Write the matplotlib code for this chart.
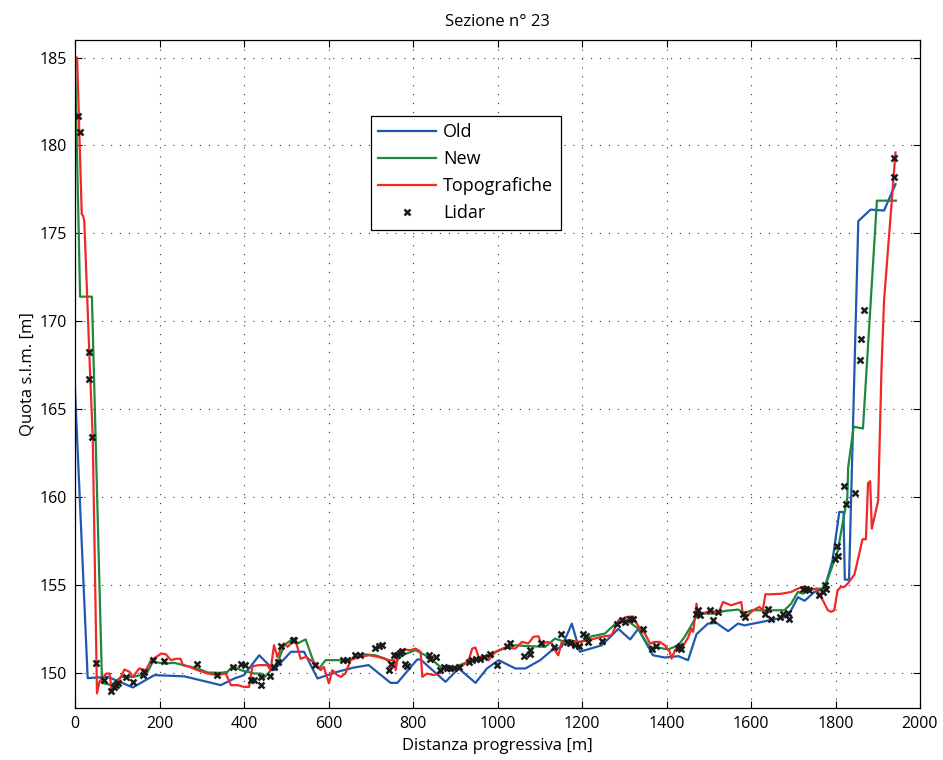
import matplotlib
matplotlib.use("Agg")
import matplotlib.pyplot as plt

plt.rcParams['font.family'] = ['Open Sans', 'DejaVu Sans']

# ---- data ----
old_x = [0, 30, 78, 137, 188, 259, 345, 377, 400, 436, 471, 511, 542, 574, 621, 660, 695, 747, 763, 810, 818,
         877, 908, 948, 975, 1003, 1042, 1066, 1101, 1129, 1152, 1176, 1195, 1247, 1286, 1314, 1333, 1368, 1396,
         1428, 1451, 1471, 1498, 1518, 1546, 1569, 1585, 1687, 1711, 1727, 1750, 1774, 1793, 1809, 1819, 1822,
         1832, 1854, 1883, 1915, 1942]
old_y = [166.1, 149.7, 149.77, 149.17, 149.87, 149.8, 149.3, 149.68, 149.87, 151.0, 150.15, 151.2, 151.2, 149.68,
         150.06, 150.3, 150.44, 149.43, 149.43, 150.76, 150.76, 149.49, 150.25, 149.43, 150.25, 150.72, 150.25,
         150.25, 150.72, 151.29, 151.48, 152.8, 151.2, 151.57, 152.5, 151.9, 152.5, 151.0, 150.87, 150.95, 150.72,
         152.2, 152.8, 152.84, 152.37, 152.8, 152.7, 153.2, 154.3, 154.1, 154.6, 154.8, 156.4, 159.15, 159.15,
         155.3, 155.3, 175.7, 176.35, 176.3, 177.8]

new_x = [0, 12, 40, 64, 86, 109, 137, 156, 172, 184, 212, 235, 267, 290, 314, 345, 361, 373, 393, 408, 424, 440,
         446, 471, 483, 495, 511, 526, 546, 566, 578, 593, 629, 645, 668, 680, 711, 735, 751, 774, 806, 837, 869,
         900, 940, 979, 1010, 1042, 1073, 1113, 1136, 1160, 1199, 1223, 1254, 1278, 1306, 1317, 1333, 1349, 1357,
         1368, 1380, 1404, 1428, 1443, 1459, 1475, 1490, 1514, 1538, 1569, 1585, 1602, 1624, 1656, 1679, 1695,
         1711, 1723, 1738, 1758, 1774, 1786, 1805, 1819, 1828, 1830, 1843, 1865, 1898, 1943]
new_y = [185, 171.4, 171.4, 149.43, 149.3, 149.77, 149.77, 149.87, 150.06, 150.63, 150.53, 150.57, 150.38, 150.25,
         150.02, 150.0, 150.06, 150.38, 150.15, 150.06, 149.96, 149.96, 149.68, 150.34, 150.8, 151.57, 151.86,
         151.67, 151.9, 150.53, 150.25, 150.72, 150.72, 150.72, 150.9, 151.06, 151.0, 150.8, 150.44, 151.0, 151.29,
         150.9, 150.25, 150.34, 150.72, 151.0, 151.33, 151.57, 151.52, 151.48, 151.95, 151.76, 151.76, 152.08,
         152.23, 152.77, 152.99, 152.8, 152.52, 151.86, 151.57, 151.44, 151.44, 151.33, 151.57, 152.05, 152.71,
         153.37, 153.37, 153.37, 153.52, 153.6, 153.41, 153.56, 153.56, 153.56, 153.56, 153.94, 154.6, 154.5,
         154.73, 154.79, 154.79, 155.64, 156.9, 158.8, 159.95, 161.7, 164.0, 163.9, 176.86, 176.86]

topo_x = [0, 5, 16, 19, 22, 36, 42, 52, 58, 74, 82, 87, 97, 117, 129, 137, 152, 168, 180, 192, 204, 215, 227, 239,
          250, 255, 271, 290, 314, 337, 357, 369, 385, 400, 412, 420, 436, 455, 463, 471, 479, 487, 495, 503, 515,
          522, 534, 546, 558, 570, 581, 589, 601, 609, 621, 629, 640, 652, 672, 696, 719, 743, 755, 759, 766, 778,
          794, 806, 818, 822, 833, 849, 861, 873, 885, 900, 916, 932, 940, 948, 955, 971, 979, 995, 1018, 1042,
          1058, 1073, 1085, 1097, 1105, 1117, 1129, 1136, 1144, 1152, 1168, 1192, 1215, 1247, 1270, 1286, 1306,
          1321, 1325, 1337, 1349, 1361, 1372, 1384, 1396, 1408, 1412, 1420, 1428, 1439, 1451, 1459, 1463, 1467,
          1471, 1475, 1490, 1506, 1522, 1534, 1553, 1565, 1577, 1581, 1593, 1605, 1613, 1620, 1628, 1634, 1648,
          1672, 1695, 1711, 1727, 1742, 1754, 1766, 1782, 1790, 1797, 1805, 1813, 1821, 1829, 1845, 1864, 1872,
          1877, 1882, 1886, 1901, 1909, 1915, 1942]
topo_y = [185, 185, 176.1, 176.0, 175.7, 166.85, 163.4, 148.83, 149.5, 149.96, 149.96, 148.92, 149.2, 150.19,
          150.06, 149.77, 150.25, 150.15, 150.72, 150.9, 151.1, 151.06, 150.72, 150.8, 150.8, 150.44, 150.34,
          150.15, 149.96, 149.87, 149.96, 149.3, 149.3, 149.2, 149.2, 150.38, 150.44, 150.44, 150.15, 151.57,
          150.9, 151.38, 151.67, 151.48, 151.76, 151.86, 150.8, 150.9, 150.72, 150.53, 150.15, 150.34, 149.4,
          150.15, 149.87, 149.77, 149.96, 150.72, 150.9, 151.0, 150.9, 150.72, 150.72, 150.15, 151.2, 151.33,
          151.29, 151.38, 151.2, 149.77, 149.96, 149.87, 149.96, 150.34, 150.15, 150.25, 150.38, 150.72, 151.38,
          151.44, 150.9, 150.9, 150.72, 151.2, 151.44, 151.38, 151.76, 151.67, 152.05, 152.08, 151.57, 151.76,
          151.67, 151.29, 151.0, 151.76, 151.86, 151.76, 151.86, 152.05, 152.14, 152.99, 153.18, 153.2, 152.99,
          152.52, 152.23, 151.67, 151.76, 151.76, 151.57, 151.19, 150.81, 151.29, 151.44, 151.52, 152.0, 152.52,
          152.33, 153.09, 153.94, 153.28, 153.41, 153.56, 153.37, 154.03, 153.84, 153.94, 154.03, 153.28, 153.28,
          153.56, 153.66, 153.75, 153.56, 154.47, 154.47, 154.5, 154.6, 154.79, 154.92, 154.73, 154.79, 154.32,
          153.56, 153.47, 153.56, 154.7, 154.89, 154.89, 155.08, 155.6, 157.6, 157.6, 160.8, 160.9, 158.2, 159.8,
          167.4, 171.2, 179.6]

lidar_x = [7, 11, 32, 34, 40, 50, 68, 86, 93, 97, 101, 121, 137, 160, 164, 184, 210, 288, 336, 373, 393, 402, 416,
           424, 440, 440, 462, 470, 481, 487, 515, 518, 567, 635, 644, 663, 674, 711, 719, 727, 743, 747, 755, 763,
           770, 774, 782, 786, 837, 841, 855, 865, 873, 881, 888, 896, 908, 932, 940, 948, 959, 967, 983, 999,
           1022, 1030, 1062, 1077, 1077, 1103, 1133, 1151, 1164, 1172, 1184, 1192, 1203, 1209, 1215, 1247, 1282,
           1294, 1302, 1314, 1321, 1345, 1365, 1376, 1428, 1432, 1435, 1471, 1475, 1479, 1502, 1510, 1522, 1581,
           1585, 1632, 1640, 1648, 1668, 1675, 1687, 1691, 1723, 1731, 1738, 1762, 1770, 1774, 1778, 1798, 1803,
           1805, 1820, 1824, 1845, 1857, 1861, 1868, 1938, 1939]
lidar_y = [181.67, 180.75, 168.26, 166.73, 163.4, 150.56, 149.58, 148.98, 149.2, 149.3, 149.4, 149.77, 149.49,
           149.87, 150.06, 150.72, 150.66, 150.53, 149.9, 150.34, 150.53, 150.44, 149.62, 149.58, 149.3, 149.77,
           149.83, 150.34, 150.63, 151.52, 151.86, 151.86, 150.44, 150.72, 150.72, 151.0, 151.04, 151.44, 151.52,
           151.57, 150.15, 150.53, 151.0, 151.0, 151.14, 151.25, 150.53, 150.38, 151.0, 150.8, 150.9, 150.15,
           150.34, 150.25, 150.25, 150.25, 150.34, 150.63, 150.72, 150.8, 150.8, 150.9, 151.1, 150.44, 151.52,
           151.67, 150.95, 151.1, 151.29, 151.67, 151.48, 152.23, 151.76, 151.7, 151.57, 151.52, 152.2, 152.08,
           151.76, 151.82, 152.77, 152.99, 152.9, 153.09, 153.09, 152.52, 151.38, 151.52, 151.44, 151.52, 151.38,
           153.37, 153.56, 153.28, 153.6, 153.03, 153.47, 153.37, 153.18, 153.37, 153.66, 153.09, 153.18, 153.37,
           153.41, 153.09, 154.79, 154.79, 154.73, 154.41, 154.6, 154.98, 154.79, 156.5, 157.2, 156.65, 160.65,
           159.6, 160.25, 167.8, 169.0, 170.65, 178.2, 179.3]

x_ticks = [0, 200, 400, 600, 800, 1000, 1200, 1400, 1600, 1800, 2000]
y_ticks = [150, 155, 160, 165, 170, 175, 180, 185]

# ---- figure ----
fig = plt.figure(figsize=(9.43, 7.6), dpi=100)
ax = fig.add_axes([75 / 943, 1 - 708 / 760, 845 / 943, 668 / 760])

ax.plot(old_x, old_y, color='#1f58b0', lw=1.6, label='Old')
ax.plot(new_x, new_y, color='#1b8a3a', lw=1.6, label='New')
ax.plot(topo_x, topo_y, color='#f02828', lw=1.6, label='Topografiche')
ax.plot(lidar_x, lidar_y, ls='none', marker='x', ms=4.8, mew=1.8, color='#1a1a1a', label='Lidar')

ax.set_xlim(0, 2000)
ax.set_ylim(148, 186)
ax.set_xticks(x_ticks)
ax.set_yticks(y_ticks)
ax.tick_params(direction='in', top=True, right=True, length=5, labelsize=11.5, width=0.8, pad=6)
ax.grid(True, color='#333333', ls=(0, (1, 7)), lw=0.8)
for s in ax.spines.values():
    s.set_linewidth(0.9)

ax.set_xlabel('Distanza progressiva [m]', fontsize=12, labelpad=4)
ax.set_ylabel('Quota s.l.m. [m]', fontsize=12, labelpad=3)
ax.set_title('Sezione n° 23', fontsize=12, pad=10)

leg = ax.legend(loc='upper left', bbox_to_anchor=(0.3503, 0.886), fontsize=13, frameon=True,
                fancybox=False, edgecolor='black', framealpha=1, handlelength=3.2,
                handletextpad=0.4, labelspacing=0.5, borderpad=0.4, borderaxespad=0)
leg.get_frame().set_linewidth(0.9)

fig.savefig('out.png', dpi=100)
